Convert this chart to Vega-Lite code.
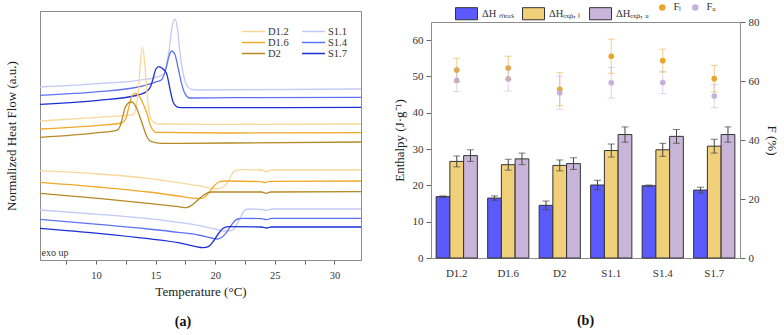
{
  "$schema": "https://vega.github.io/schema/vega-lite/v6.json",
  "background": "white",
  "padding": {"left": 4, "top": 2, "right": 4, "bottom": 2},
  "spacing": 31,
  "config": {
    "font": "Liberation Serif",
    "view": {"stroke": "#8c8c8c", "strokeWidth": 1},
    "axis": {
      "labelFont": "Liberation Serif", "titleFont": "Liberation Serif",
      "labelFontSize": 11, "titleFontSize": 13, "titleFontWeight": "normal",
      "labelColor": "#333333", "titleColor": "#222222",
      "domainColor": "#8c8c8c", "tickColor": "#666666", "grid": false
    },
    "legend": {
      "labelFont": "Liberation Serif", "labelFontSize": 10.5, "labelColor": "#333333",
      "layout": {"top": {"anchor": "middle", "margin": 8}}
    },
    "title": {"font": "Liberation Serif", "fontSize": 14, "fontWeight": "bold", "color": "#111111"}
  },
  "datasets": {
    "dsc": [
      {"s":"S1.1","r":"c","t":5.31,"y":519},{"s":"S1.1","r":"c","t":10.20,"y":529},{"s":"S1.1","r":"c","t":13.55,"y":539},{"s":"S1.1","r":"c","t":15.22,"y":550},{"s":"S1.1","r":"c","t":15.73,"y":560},{"s":"S1.1","r":"c","t":15.92,"y":585},{"s":"S1.1","r":"c","t":16.12,"y":625},{"s":"S1.1","r":"c","t":16.34,"y":690},{"s":"S1.1","r":"c","t":16.62,"y":723},{"s":"S1.1","r":"c","t":16.84,"y":693},{"s":"S1.1","r":"c","t":17.04,"y":625},{"s":"S1.1","r":"c","t":17.32,"y":560},{"s":"S1.1","r":"c","t":17.60,"y":525},{"s":"S1.1","r":"c","t":18.02,"y":512},{"s":"S1.1","r":"c","t":18.58,"y":510},{"s":"S1.1","r":"c","t":24.16,"y":511},{"s":"S1.1","r":"c","t":32.26,"y":513},
      {"s":"S1.4","r":"c","t":5.31,"y":494},{"s":"S1.4","r":"c","t":10.20,"y":505},{"s":"S1.4","r":"c","t":13.55,"y":519},{"s":"S1.4","r":"c","t":14.94,"y":533},{"s":"S1.4","r":"c","t":15.50,"y":541},{"s":"S1.4","r":"c","t":15.73,"y":557},{"s":"S1.4","r":"c","t":15.92,"y":580},{"s":"S1.4","r":"c","t":16.12,"y":610},{"s":"S1.4","r":"c","t":16.34,"y":627},{"s":"S1.4","r":"c","t":16.62,"y":617},{"s":"S1.4","r":"c","t":16.90,"y":575},{"s":"S1.4","r":"c","t":17.18,"y":530},{"s":"S1.4","r":"c","t":17.46,"y":500},{"s":"S1.4","r":"c","t":17.88,"y":486},{"s":"S1.4","r":"c","t":21.37,"y":487},{"s":"S1.4","r":"c","t":32.26,"y":488},
      {"s":"S1.7","r":"c","t":5.31,"y":467},{"s":"S1.7","r":"c","t":10.20,"y":479},{"s":"S1.7","r":"c","t":13.55,"y":495},{"s":"S1.7","r":"c","t":14.39,"y":510},{"s":"S1.7","r":"c","t":14.61,"y":523},{"s":"S1.7","r":"c","t":14.80,"y":545},{"s":"S1.7","r":"c","t":15.03,"y":573},{"s":"S1.7","r":"c","t":15.28,"y":580},{"s":"S1.7","r":"c","t":15.56,"y":575},{"s":"S1.7","r":"c","t":15.92,"y":560},{"s":"S1.7","r":"c","t":16.20,"y":515},{"s":"S1.7","r":"c","t":16.48,"y":473},{"s":"S1.7","r":"c","t":16.90,"y":458},{"s":"S1.7","r":"c","t":17.46,"y":457},{"s":"S1.7","r":"c","t":32.26,"y":458},
      {"s":"D1.2","r":"c","t":5.31,"y":417},{"s":"D1.2","r":"c","t":10.20,"y":428},{"s":"D1.2","r":"c","t":13.13,"y":436},{"s":"D1.2","r":"c","t":13.35,"y":455},{"s":"D1.2","r":"c","t":13.55,"y":505},{"s":"D1.2","r":"c","t":13.74,"y":595},{"s":"D1.2","r":"c","t":13.91,"y":638},{"s":"D1.2","r":"c","t":14.08,"y":595},{"s":"D1.2","r":"c","t":14.25,"y":515},{"s":"D1.2","r":"c","t":14.44,"y":450},{"s":"D1.2","r":"c","t":14.72,"y":417},{"s":"D1.2","r":"c","t":15.22,"y":408},{"s":"D1.2","r":"c","t":21.37,"y":407},{"s":"D1.2","r":"c","t":32.26,"y":408},
      {"s":"D1.6","r":"c","t":5.31,"y":393},{"s":"D1.6","r":"c","t":10.20,"y":404},{"s":"D1.6","r":"c","t":12.15,"y":411},{"s":"D1.6","r":"c","t":12.49,"y":423},{"s":"D1.6","r":"c","t":12.77,"y":460},{"s":"D1.6","r":"c","t":13.04,"y":493},{"s":"D1.6","r":"c","t":13.27,"y":500},{"s":"D1.6","r":"c","t":13.55,"y":496},{"s":"D1.6","r":"c","t":13.88,"y":475},{"s":"D1.6","r":"c","t":14.25,"y":443},{"s":"D1.6","r":"c","t":14.61,"y":400},{"s":"D1.6","r":"c","t":15.08,"y":383},{"s":"D1.6","r":"c","t":21.37,"y":381},{"s":"D1.6","r":"c","t":32.26,"y":382},
      {"s":"D2","r":"c","t":5.31,"y":368},{"s":"D2","r":"c","t":10.20,"y":382},{"s":"D2","r":"c","t":11.73,"y":389},{"s":"D2","r":"c","t":12.01,"y":400},{"s":"D2","r":"c","t":12.21,"y":425},{"s":"D2","r":"c","t":12.43,"y":455},{"s":"D2","r":"c","t":12.71,"y":471},{"s":"D2","r":"c","t":12.93,"y":474},{"s":"D2","r":"c","t":13.16,"y":471},{"s":"D2","r":"c","t":13.41,"y":455},{"s":"D2","r":"c","t":13.83,"y":415},{"s":"D2","r":"c","t":14.25,"y":372},{"s":"D2","r":"c","t":14.66,"y":355},{"s":"D2","r":"c","t":15.50,"y":350},{"s":"D2","r":"c","t":21.37,"y":351},{"s":"D2","r":"c","t":32.26,"y":354},
      {"s":"D1.2","r":"h","t":5.31,"y":268},{"s":"D1.2","r":"h","t":10.20,"y":258},{"s":"D1.2","r":"h","t":14.39,"y":245},{"s":"D1.2","r":"h","t":16.90,"y":232},{"s":"D1.2","r":"h","t":18.58,"y":223},{"s":"D1.2","r":"h","t":19.69,"y":215},{"s":"D1.2","r":"h","t":20.11,"y":213},{"s":"D1.2","r":"h","t":20.67,"y":219},{"s":"D1.2","r":"h","t":21.09,"y":235},{"s":"D1.2","r":"h","t":21.45,"y":260},{"s":"D1.2","r":"h","t":21.70,"y":269},{"s":"D1.2","r":"h","t":22.21,"y":271},{"s":"D1.2","r":"h","t":23.88,"y":270},{"s":"D1.2","r":"h","t":24.30,"y":265},{"s":"D1.2","r":"h","t":24.72,"y":270},{"s":"D1.2","r":"h","t":32.26,"y":270},
      {"s":"D1.6","r":"h","t":5.31,"y":233},{"s":"D1.6","r":"h","t":10.20,"y":219},{"s":"D1.6","r":"h","t":14.39,"y":204},{"s":"D1.6","r":"h","t":16.90,"y":192},{"s":"D1.6","r":"h","t":18.30,"y":185},{"s":"D1.6","r":"h","t":18.91,"y":185},{"s":"D1.6","r":"h","t":19.36,"y":197},{"s":"D1.6","r":"h","t":19.83,"y":219},{"s":"D1.6","r":"h","t":20.31,"y":234},{"s":"D1.6","r":"h","t":20.81,"y":237},{"s":"D1.6","r":"h","t":23.88,"y":235},{"s":"D1.6","r":"h","t":24.16,"y":232},{"s":"D1.6","r":"h","t":24.58,"y":236},{"s":"D1.6","r":"h","t":32.26,"y":237},
      {"s":"D2","r":"h","t":5.31,"y":200},{"s":"D2","r":"h","t":10.20,"y":185},{"s":"D2","r":"h","t":14.39,"y":170},{"s":"D2","r":"h","t":16.90,"y":160},{"s":"D2","r":"h","t":17.60,"y":157},{"s":"D2","r":"h","t":18.07,"y":165},{"s":"D2","r":"h","t":18.58,"y":181},{"s":"D2","r":"h","t":19.13,"y":197},{"s":"D2","r":"h","t":19.69,"y":204},{"s":"D2","r":"h","t":23.88,"y":204},{"s":"D2","r":"h","t":24.25,"y":200},{"s":"D2","r":"h","t":24.66,"y":204},{"s":"D2","r":"h","t":32.26,"y":205},
      {"s":"S1.1","r":"h","t":5.31,"y":150},{"s":"S1.1","r":"h","t":10.20,"y":137},{"s":"S1.1","r":"h","t":14.39,"y":124},{"s":"S1.1","r":"h","t":16.90,"y":113},{"s":"S1.1","r":"h","t":18.58,"y":104},{"s":"S1.1","r":"h","t":19.97,"y":93},{"s":"S1.1","r":"h","t":20.81,"y":87},{"s":"S1.1","r":"h","t":21.37,"y":88},{"s":"S1.1","r":"h","t":21.70,"y":100},{"s":"S1.1","r":"h","t":22.07,"y":125},{"s":"S1.1","r":"h","t":22.43,"y":147},{"s":"S1.1","r":"h","t":22.77,"y":153},{"s":"S1.1","r":"h","t":23.88,"y":152},{"s":"S1.1","r":"h","t":24.30,"y":149},{"s":"S1.1","r":"h","t":24.86,"y":153},{"s":"S1.1","r":"h","t":32.26,"y":153},
      {"s":"S1.4","r":"h","t":5.31,"y":122},{"s":"S1.4","r":"h","t":10.20,"y":107},{"s":"S1.4","r":"h","t":14.39,"y":93},{"s":"S1.4","r":"h","t":16.90,"y":83},{"s":"S1.4","r":"h","t":18.58,"y":75},{"s":"S1.4","r":"h","t":19.69,"y":66},{"s":"S1.4","r":"h","t":20.20,"y":63},{"s":"S1.4","r":"h","t":20.59,"y":69},{"s":"S1.4","r":"h","t":21.03,"y":87},{"s":"S1.4","r":"h","t":21.45,"y":109},{"s":"S1.4","r":"h","t":21.87,"y":123},{"s":"S1.4","r":"h","t":22.35,"y":125},{"s":"S1.4","r":"h","t":23.88,"y":124},{"s":"S1.4","r":"h","t":24.30,"y":121},{"s":"S1.4","r":"h","t":24.72,"y":125},{"s":"S1.4","r":"h","t":32.26,"y":125},
      {"s":"S1.7","r":"h","t":5.31,"y":95},{"s":"S1.7","r":"h","t":10.20,"y":80},{"s":"S1.7","r":"h","t":14.39,"y":64},{"s":"S1.7","r":"h","t":16.90,"y":52},{"s":"S1.7","r":"h","t":18.30,"y":41},{"s":"S1.7","r":"h","t":18.99,"y":37},{"s":"S1.7","r":"h","t":19.47,"y":41},{"s":"S1.7","r":"h","t":19.92,"y":60},{"s":"S1.7","r":"h","t":20.31,"y":81},{"s":"S1.7","r":"h","t":20.67,"y":95},{"s":"S1.7","r":"h","t":21.09,"y":100},{"s":"S1.7","r":"h","t":23.88,"y":99},{"s":"S1.7","r":"h","t":24.30,"y":96},{"s":"S1.7","r":"h","t":24.72,"y":99},{"s":"S1.7","r":"h","t":32.26,"y":99}
    ],
    "bars": [
      {"s":"D1.2","k":"ΔH ₘₑₐₛ","v":16.9,"lo":16.7,"hi":17.1},
      {"s":"D1.2","k":"ΔHₑₓₚ, ₗ","v":26.6,"lo":25.1,"hi":28.1},
      {"s":"D1.2","k":"ΔHₑₓₚ, ᵤ","v":28.2,"lo":26.6,"hi":29.8},
      {"s":"D1.6","k":"ΔH ₘₑₐₛ","v":16.5,"lo":15.9,"hi":17.1},
      {"s":"D1.6","k":"ΔHₑₓₚ, ₗ","v":25.7,"lo":24.2,"hi":27.2},
      {"s":"D1.6","k":"ΔHₑₓₚ, ᵤ","v":27.3,"lo":25.7,"hi":28.9},
      {"s":"D2","k":"ΔH ₘₑₐₛ","v":14.5,"lo":13.3,"hi":15.7},
      {"s":"D2","k":"ΔHₑₓₚ, ₗ","v":25.5,"lo":24.0,"hi":27.0},
      {"s":"D2","k":"ΔHₑₓₚ, ᵤ","v":26.0,"lo":24.4,"hi":27.6},
      {"s":"S1.1","k":"ΔH ₘₑₐₛ","v":20.1,"lo":18.8,"hi":21.4},
      {"s":"S1.1","k":"ΔHₑₓₚ, ₗ","v":29.6,"lo":27.8,"hi":31.4},
      {"s":"S1.1","k":"ΔHₑₓₚ, ᵤ","v":34.0,"lo":31.9,"hi":36.1},
      {"s":"S1.4","k":"ΔH ₘₑₐₛ","v":19.9,"lo":19.7,"hi":20.1},
      {"s":"S1.4","k":"ΔHₑₓₚ, ₗ","v":29.8,"lo":28.0,"hi":31.6},
      {"s":"S1.4","k":"ΔHₑₓₚ, ᵤ","v":33.5,"lo":31.6,"hi":35.4},
      {"s":"S1.7","k":"ΔH ₘₑₐₛ","v":18.7,"lo":17.9,"hi":19.5},
      {"s":"S1.7","k":"ΔHₑₓₚ, ₗ","v":30.8,"lo":28.9,"hi":32.7},
      {"s":"S1.7","k":"ΔHₑₓₚ, ᵤ","v":34.0,"lo":31.9,"hi":36.1}
    ],
    "fpts": [
      {"s":"D1.2","f":"Fₗ","v":63.7,"lo":59.7,"hi":67.7},
      {"s":"D1.2","f":"Fᵤ","v":60.2,"lo":56.4,"hi":64.0},
      {"s":"D1.6","f":"Fₗ","v":64.4,"lo":60.4,"hi":68.4},
      {"s":"D1.6","f":"Fᵤ","v":60.7,"lo":56.6,"hi":64.8},
      {"s":"D2","f":"Fₗ","v":57.2,"lo":51.6,"hi":62.8},
      {"s":"D2","f":"Fᵤ","v":56.0,"lo":50.4,"hi":61.6},
      {"s":"S1.1","f":"Fₗ","v":68.4,"lo":62.6,"hi":74.2},
      {"s":"S1.1","f":"Fᵤ","v":59.4,"lo":54.2,"hi":64.6},
      {"s":"S1.4","f":"Fₗ","v":66.9,"lo":63.0,"hi":70.8},
      {"s":"S1.4","f":"Fᵤ","v":59.5,"lo":55.7,"hi":63.3},
      {"s":"S1.7","f":"Fₗ","v":60.8,"lo":56.3,"hi":65.3},
      {"s":"S1.7","f":"Fᵤ","v":54.9,"lo":51.0,"hi":58.8}
    ]
  },
  "hconcat": [
    {
      "width": 321,
      "height": 249,
      "title": {"text": "(a)", "orient": "bottom", "anchor": "middle", "frame": "bounds", "offset": 16},
      "encoding": {
        "x": {
          "field": "t", "type": "quantitative",
          "scale": {"domain": [5.31, 32.23], "nice": false, "zero": false},
          "axis": {
            "orient": "bottom", "title": "Temperature (°C)",
            "values": [7.5, 10, 12.5, 15, 17.5, 20, 22.5, 25, 27.5, 30],
            "labelExpr": "datum.value % 5 === 0 ? datum.label : ''",
            "tickSize": 4, "labelPadding": 6, "titlePadding": 5, "labelFontSize": 10.5
          }
        },
        "y": {
          "field": "y", "type": "quantitative",
          "scale": {"domain": [0, 747], "nice": false, "zero": false},
          "axis": {"title": "Normalized Heat Flow (a.u.)", "labels": false, "ticks": false, "minExtent": 0, "maxExtent": 0, "titlePadding": 22}
        }
      },
      "layer": [
        {
          "data": {"name": "dsc"},
          "mark": {"type": "line", "interpolate": "monotone", "strokeWidth": 1.3, "clip": true},
          "encoding": {
            "color": {
              "field": "s", "type": "nominal",
              "scale": {
                "domain": ["D1.2", "D1.6", "D2", "S1.1", "S1.4", "S1.7"],
                "range": ["#f9d79a", "#f0a92a", "#b58a25", "#c3c9f6", "#5f73f0", "#1b2fd6"]
              },
              "legend": {
                "title": null, "orient": "none", "legendX": 208, "legendY": 15, "columns": 2,
                "symbolType": "M-2.5,0H2.5", "symbolSize": 85, "symbolStrokeWidth": 1.5,
                "labelOffset": 9, "columnPadding": 9, "rowPadding": 0, "labelFontSize": 10.5
              }
            },
            "detail": {"field": "r", "type": "nominal"}
          }
        },
        {
          "data": {"values": [{"t": 5.44, "y": 21, "txt": "exo up"}]},
          "mark": {"type": "text", "align": "left", "baseline": "middle", "fontSize": 10, "color": "#333333"},
          "encoding": {"text": {"field": "txt"}}
        }
      ]
    },
    {
      "width": 309,
      "height": 247,
      "view": {"stroke": null},
      "title": {"text": "(b)", "orient": "bottom", "anchor": "middle", "frame": "group", "offset": 36},
      "layer": [
        {
          "data": {"name": "bars"},
          "encoding": {
            "x": {
              "field": "s", "type": "nominal", "sort": null,
              "scale": {"domain": ["D1.2", "D1.6", "D2", "S1.1", "S1.4", "S1.7"], "paddingInner": 0.2, "paddingOuter": 0.1},
              "axis": {"orient": "bottom", "title": null, "ticks": false, "labelPadding": 9, "labelAngle": 0, "labelFontSize": 11}
            },
            "xOffset": {
              "field": "k", "type": "nominal", "sort": null,
              "scale": {"domain": ["ΔH ₘₑₐₛ", "ΔHₑₓₚ, ₗ", "ΔHₑₓₚ, ᵤ"], "paddingInner": 0, "paddingOuter": 0}
            }
          },
          "layer": [
            {
              "mark": {"type": "bar", "stroke": "#333333", "strokeWidth": 1},
              "encoding": {
                "y": {
                  "field": "v", "type": "quantitative",
                  "scale": {"domain": [0, 65], "nice": false, "range": [247, 11]},
                  "axis": {"title": "Enthalpy (J·g⁻¹)", "values": [0, 10, 20, 30, 40, 50, 60], "tickSize": 5, "labelPadding": 3, "titlePadding": 6, "minExtent": 0}
                },
                "fill": {
                  "field": "k", "type": "nominal", "sort": null,
                  "scale": {"domain": ["ΔH ₘₑₐₛ", "ΔHₑₓₚ, ₗ", "ΔHₑₓₚ, ᵤ"], "range": ["#5a5aff", "#f0d078", "#c9b5d9"]},
                  "legend": {
                    "title": null, "orient": "top", "direction": "horizontal", "offset": -11,
                    "symbolType": "M-1,-0.55H1V0.55H-1Z", "symbolSize": 484,
                    "symbolStrokeColor": "#333333", "symbolStrokeWidth": 1,
                    "labelOffset": 4, "columnPadding": 6
                  }
                }
              }
            },
            {
              "mark": {"type": "rule", "color": "#444444", "strokeWidth": 1},
              "encoding": {
                "y": {"field": "lo", "type": "quantitative"},
                "y2": {"field": "hi"}
              }
            },
            {
              "mark": {"type": "tick", "color": "#444444", "size": 7, "thickness": 1},
              "encoding": {"y": {"field": "lo", "type": "quantitative"}}
            },
            {
              "mark": {"type": "tick", "color": "#444444", "size": 7, "thickness": 1},
              "encoding": {"y": {"field": "hi", "type": "quantitative"}}
            }
          ]
        },
        {
          "data": {"name": "fpts"},
          "encoding": {
            "x": {
              "field": "s", "type": "nominal", "sort": null,
              "scale": {"domain": ["D1.2", "D1.6", "D2", "S1.1", "S1.4", "S1.7"]},
              "axis": {"orient": "top", "title": null, "labels": false, "ticks": false, "domain": true, "offset": -11}
            },
            "color": {
              "field": "f", "type": "nominal", "sort": null,
              "scale": {"domain": ["Fₗ", "Fᵤ"], "range": ["#e9a62c", "#c4b2dc"]},
              "legend": {
                "title": null, "orient": "top", "direction": "horizontal", "offset": -11,
                "symbolType": "circle", "symbolSize": 25, "labelOffset": 6, "columnPadding": 7
              }
            }
          },
          "layer": [
            {
              "mark": {"type": "point", "filled": true, "size": 32, "opacity": 1},
              "encoding": {
                "y": {
                  "field": "v", "type": "quantitative",
                  "scale": {"domain": [0, 80], "nice": false, "range": [247, 11]},
                  "axis": {"orient": "right", "title": "F (%)", "values": [0, 10, 20, 30, 40, 50, 60, 70, 80], "tickSize": 5, "labelPadding": 3, "titlePadding": 5, "minExtent": 0}
                }
              }
            },
            {
              "mark": {"type": "rule", "strokeWidth": 1, "opacity": 0.55},
              "encoding": {
                "y": {"field": "lo", "type": "quantitative"},
                "y2": {"field": "hi"}
              }
            },
            {
              "mark": {"type": "tick", "size": 7, "thickness": 1, "opacity": 0.55},
              "encoding": {"y": {"field": "lo", "type": "quantitative"}}
            },
            {
              "mark": {"type": "tick", "size": 7, "thickness": 1, "opacity": 0.55},
              "encoding": {"y": {"field": "hi", "type": "quantitative"}}
            }
          ]
        }
      ],
      "resolve": {"scale": {"y": "independent"}, "axis": {"x": "independent"}}
    }
  ],
  "resolve": {
    "scale": {"color": "independent", "fill": "independent"},
    "legend": {"color": "independent", "fill": "independent"}
  }
}
